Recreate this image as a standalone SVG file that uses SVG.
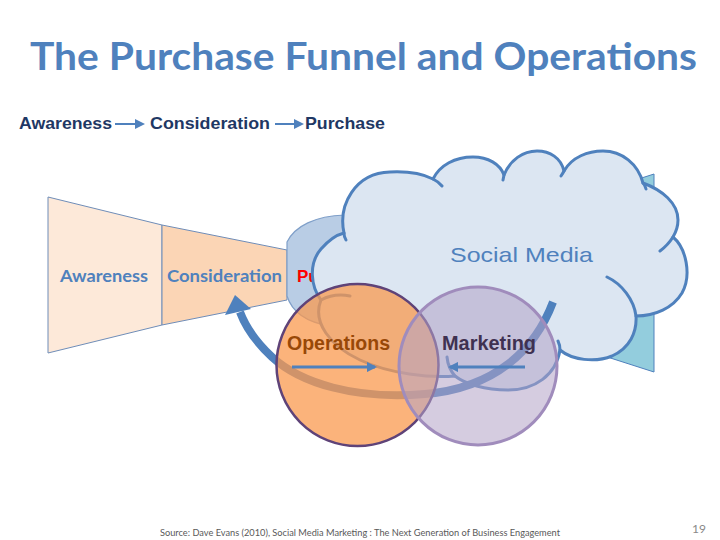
<svg xmlns="http://www.w3.org/2000/svg" width="720" height="540" viewBox="0 0 720 540">
  <style>
    .title { font-family: Lato, "Open Sans", sans-serif; font-weight: bold; font-size: 38px; fill: #4f81bd; }
    .hdr { font-family: "Liberation Sans", Arial, sans-serif; font-weight: bold; font-size: 16.5px; fill: #1f3864; }
    .fun { font-family: Lato, "Open Sans", sans-serif; font-weight: bold; font-size: 17px; fill: #4f81bd; }
    .ring { font-family: "Liberation Sans", Arial, sans-serif; font-weight: bold; font-size: 19.5px; }
    .sm { font-family: "Liberation Sans", Arial, sans-serif; font-size: 21px; fill: #4f81bd; }
    .src { font-family: Lato, "Open Sans", sans-serif; font-size: 8.5px; fill: #595959; }
    .cloud { fill: #dce6f2; stroke: #4f81bd; stroke-width: 3; stroke-linejoin: round; }
    .tail { fill: none; stroke: #4f81bd; stroke-width: 3; stroke-linecap: round; }
  </style>
  <defs>
    <marker id="ahSmall" viewBox="0 0 10 10" refX="8" refY="5" markerWidth="5" markerHeight="5" markerUnits="strokeWidth" orient="auto">
      <path d="M0,0 L10,5 L0,10 z" fill="#4f81bd"/>
    </marker>
    <marker id="ahMid" viewBox="0 0 10 10" refX="8" refY="5" markerWidth="3.5" markerHeight="3.5" markerUnits="strokeWidth" orient="auto">
      <path d="M0,0 L10,5 L0,10 z" fill="#4f81bd"/>
    </marker>
  </defs>

  <rect width="720" height="540" fill="#ffffff"/>

  <text class="title" x="30" y="70" textLength="667" lengthAdjust="spacingAndGlyphs">The Purchase Funnel and Operations</text>

  <g id="header">
    <text class="hdr" x="19" y="129" textLength="93" lengthAdjust="spacingAndGlyphs">Awareness</text>
    <text class="hdr" x="150" y="129" textLength="120" lengthAdjust="spacingAndGlyphs">Consideration</text>
    <text class="hdr" x="305" y="129" textLength="80" lengthAdjust="spacingAndGlyphs">Purchase</text>
  </g>

  <g id="funnel">
    <polygon points="48,197 162,225 162,325 48,353" fill="#fde9d9" stroke="#6f8db8" stroke-width="1"/>
    <polygon points="162,225 287,250 287,300 162,325" fill="#fbd5b5" stroke="#6f8db8" stroke-width="1"/>
    <path d="M287,242 C295,226 315,216 345,215 L420,215 L420,330 L330,326 C305,322 292,312 287,296 Z" fill="#b9cde5" stroke="#7f9fc9" stroke-width="1.2"/>
    <text class="fun" x="60" y="282" textLength="88" lengthAdjust="spacingAndGlyphs">Awareness</text>
    <text class="fun" x="167" y="282" textLength="115" lengthAdjust="spacingAndGlyphs">Consideration</text>
    <text x="297" y="282" font-family="Liberation Sans, Arial, sans-serif" font-weight="bold" font-size="17" fill="#ff0000">Purchase</text>
  </g>

  <g id="loyalty">
    <polygon points="520,217 654,174 654,372 520,329" fill="#93cddd" stroke="#4f81bd" stroke-width="1"/>
  </g>

  <g id="social-media">
    <path class="cloud" d="M344,233 C338,205 355,173 390,172 C410,171 425,175 433,179 C440,165 455,157 473,157 C488,157 500,164 504,175 C510,160 523,151 537,151 C550,151 561,158 564,171 C572,157 588,151 603,151 C622,151 638,164 643,183 C662,190 678,203 678,220 C678,227 676,232 673,237 C686,248 692,275 682,293 C673,308 655,316 636,316 C637,332 630,348 612,356 C595,363 572,360 560,350 C556,375 535,390 508,390 C485,390 465,384 455,376 C430,378 390,374 360,360 C330,346 312,322 321,300 C311,287 308,264 321,249 C328,241 336,235 344,233 Z"/>
    <path class="tail" d="M433,179 Q439,182 442,186 M504,175 L503,180 M564,171 Q563,173 561,176 M643,183 Q645,185 646,189 M673,237 Q668,245 660,251 M636,316 C634,300 622,284 607,277 M560,350 Q560,345 558,341 M455,376 Q448,368 447,357 M321,300 Q334,293 350,296 M344,233 Q344,237 346,240"/>
    <text class="sm" x="450" y="262" textLength="143" lengthAdjust="spacingAndGlyphs">Social Media</text>
  </g>

  <g id="connectors">
    <line x1="115" y1="124" x2="143" y2="124" stroke="#4f81bd" stroke-width="2" marker-end="url(#ahSmall)"/>
    <line x1="275" y1="124" x2="302" y2="124" stroke="#4f81bd" stroke-width="2" marker-end="url(#ahSmall)"/>
    <path d="M553,302 C535,350 495,388 425,394 C355,400 300,383 272,357 C257,343 246,328 240,312" fill="none" stroke="#4f81bd" stroke-width="8"/>
    <polygon points="235,295 225,315 251,309" fill="#4f81bd"/>
  </g>

  <g id="operations">
    <circle cx="357.5" cy="365" r="81" fill="#f99a4f" fill-opacity="0.75" stroke="#5f4378" stroke-width="2.5"/>
  </g>
  <g id="marketing">
    <circle cx="478" cy="366" r="79" fill="#b3a2c7" fill-opacity="0.55" stroke="#a08cbc" stroke-width="3"/>
  </g>

  <g id="labels">
    <text class="ring" x="287" y="350" fill="#984807" textLength="103" lengthAdjust="spacingAndGlyphs">Operations</text>
    <text class="ring" x="442" y="350" fill="#3f3151" textLength="94" lengthAdjust="spacingAndGlyphs">Marketing</text>
    <line x1="292" y1="367" x2="375" y2="367" stroke="#4f81bd" stroke-width="3" marker-end="url(#ahMid)"/>
    <line x1="525" y1="367" x2="450" y2="367" stroke="#4f81bd" stroke-width="3" marker-end="url(#ahMid)"/>
  </g>

  <text class="src" x="160" y="536" textLength="400" lengthAdjust="spacingAndGlyphs">Source: Dave Evans (2010), Social Media Marketing : The Next Generation of Business Engagement</text>
  <text x="692" y="533" font-family="Lato, sans-serif" font-size="12" fill="#898989">19</text>
</svg>
